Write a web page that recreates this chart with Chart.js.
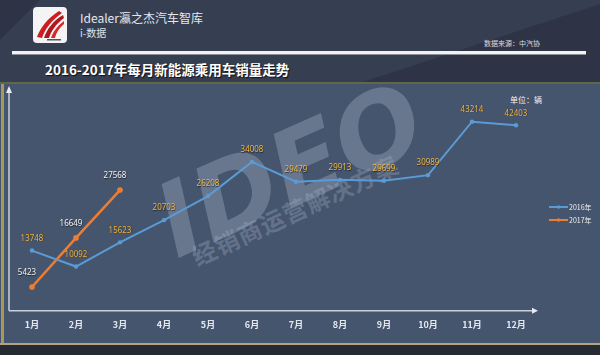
<!DOCTYPE html>
<html><head><meta charset="utf-8">
<script src="https://cdn.jsdelivr.net/npm/chart.js@4"></script>
<style>
html,body{margin:0;padding:0;}
body{width:600px;height:355px;position:relative;overflow:hidden;background:#2e3445;font-family:"Noto Sans CJK SC","Noto Sans",sans-serif;}
.abs{position:absolute;}
#hdrlight{left:0;top:0;width:600px;height:83px;background:#363e52;clip-path:polygon(40px 0,600px 0,600px 4px,360px 83px,0 83px,0 40px);}
#logo{left:33px;top:7px;width:34px;height:36px;background:#f4f4f4;border-radius:4px;overflow:hidden;}
#brand{left:80px;top:11px;color:#e6e8ec;font-size:12px;line-height:14px;white-space:nowrap;}
#sub{left:80px;top:27px;color:#dfe2e8;font-size:10px;line-height:12px;}
#src{left:484px;top:39px;color:#d8dbe2;font-size:7px;line-height:9px;}
#wline{left:12px;top:51px;width:574px;height:3px;background:#f2f2f2;border-bottom:1px solid #8a8f99;}
#title{left:45px;top:61px;color:#ffffff;font-size:13.5px;font-weight:bold;line-height:17px;white-space:nowrap;text-shadow:1px 1px 1px #111;}
#panelTop{left:0;top:82px;width:600px;height:2px;background:#5d6a45;}
#panel{left:0;top:84px;width:600px;height:260px;background:#46556e;}
#lborder{left:1px;top:84px;width:3px;height:261px;background:#a8985c;}
#bline{left:0;top:343px;width:600px;height:2px;background:#b3a486;}
#bottom{left:0;top:345px;width:600px;height:10px;background:#262a33;}
#wm{left:140px;top:100px;width:300px;height:140px;color:rgba(175,188,208,0.33);font-family:"DejaVu Sans";font-weight:bold;font-style:italic;font-size:102px;line-height:140px;text-align:center;transform:rotate(-24deg);white-space:nowrap;}
#wm2{left:170px;top:195px;width:250px;height:30px;color:rgba(175,188,208,0.30);font-weight:bold;font-size:24px;line-height:30px;letter-spacing:1px;text-align:center;transform:rotate(-25deg);white-space:nowrap;}
#unit{left:510px;top:95px;color:#f2f2f2;font-size:8px;line-height:10px;white-space:nowrap;}
#c{position:absolute;left:0;top:0;}
</style></head><body>
<div class="abs" id="hdrlight"></div>
<div class="abs" id="logo"><svg width="34" height="36" viewBox="0 0 34 36">
<path d="M4 30 C8 20 14 12 26 4 L29 6 C18 14 12 22 9 31 Z" fill="#c81e24"/>
<path d="M11 31 C14 22 20 14 30 8 L31 11 C23 17 18 24 16 31 Z" fill="#b0161c"/>
<path d="M18 31 C20 25 24 19 31 14 L31 17 C26 21 23 26 22 31 Z" fill="#d42a2e"/>
<rect x="14" y="32" width="14" height="1.5" fill="#555"/>
</svg></div>
<div class="abs" id="brand">Idealer瀛之杰汽车智库</div>
<div class="abs" id="sub">i-数据</div>
<div class="abs" id="src">数据来源：中汽协</div>
<div class="abs" id="wline"></div>
<div class="abs" id="title">2016-2017年每月新能源乘用车销量走势</div>
<div class="abs" id="panelTop"></div>
<div class="abs" id="panel"></div>
<div class="abs" id="lborder"></div>
<div class="abs" id="bline"></div>
<div class="abs" id="bottom"></div>
<div class="abs" id="wm">IDEO</div>
<div class="abs" id="wm2">经销商运营解决方案</div>
<div class="abs" id="unit">单位：辆</div>
<canvas id="c" width="600" height="355"></canvas>
<script>
const categories = ["1月","2月","3月","4月","5月","6月","7月","8月","9月","10月","11月","12月"];
const sales2016 = [13748,10092,15623,20703,26208,34008,29479,29913,29699,30989,43214,42403];
const sales2017 = [5423,16649,27568];
const seriesNames = ["2016年","2017年"];
const colors = ["#5b9bd5","#ed7d31"];
const labelColors = ["#f2b640","#f2f2f2"];

const axesPlugin = {
  id:'axesArrows',
  beforeDatasetsDraw(chart){
    const {ctx, chartArea:a} = chart;
    ctx.save();
    ctx.strokeStyle = '#c9d0dc'; ctx.fillStyle = '#e8ecf2'; ctx.lineWidth = 1.5;
    ctx.beginPath(); ctx.moveTo(a.left-1, a.bottom); ctx.lineTo(a.left-1, a.top-2); ctx.stroke();
    ctx.beginPath(); ctx.moveTo(a.left-1, a.top-6); ctx.lineTo(a.left-4, a.top+1); ctx.lineTo(a.left+2, a.top+1); ctx.closePath(); ctx.fill();
    ctx.beginPath(); ctx.moveTo(a.left-1, a.bottom); ctx.lineTo(a.right-4, a.bottom); ctx.stroke();
    ctx.beginPath(); ctx.moveTo(a.right, a.bottom); ctx.lineTo(a.right-6, a.bottom-3); ctx.lineTo(a.right-6, a.bottom+3); ctx.closePath(); ctx.fill();
    ctx.restore();
  },
  afterDatasetsDraw(chart){
    const {ctx} = chart;
    ctx.save();
    ctx.font = '8px "Noto Sans", sans-serif';
    ctx.textAlign = 'center'; ctx.textBaseline = 'middle';
    chart.data.datasets.forEach((ds, di) => {
      const meta = chart.getDatasetMeta(di);
      meta.data.forEach((pt, i) => {
        const v = ds.data[i];
        ctx.fillStyle = labelColors[di];
        ctx.shadowColor = 'rgba(0,0,0,0.6)'; ctx.shadowBlur = 1; ctx.shadowOffsetX = 0.5; ctx.shadowOffsetY = 0.5;
        if (di === 0) ctx.fillText(String(v), pt.x, pt.y - 12);
        else ctx.fillText(String(v), pt.x - 5, pt.y - 14);
      });
    });
    // legend
    ctx.shadowColor = 'transparent';
    ctx.textAlign = 'left';
    ctx.font = '7px "Noto Sans CJK SC", sans-serif';
    chart.data.datasets.forEach((ds, di) => {
      const y = 207 + di * 13;
      ctx.strokeStyle = colors[di]; ctx.lineWidth = 2;
      ctx.beginPath(); ctx.moveTo(549, y); ctx.lineTo(568, y); ctx.stroke();
      ctx.fillStyle = colors[di];
      ctx.beginPath(); ctx.arc(558.5, y, 1.8, 0, Math.PI*2); ctx.fill();
      ctx.fillStyle = '#f0f0f0';
      ctx.fillText(ds.label, 569, y);
    });
    ctx.restore();
  }
};

new Chart(document.getElementById('c'), {
  type:'line',
  data:{
    labels: categories,
    datasets:[
      {label:seriesNames[0], data:sales2016, borderColor:colors[0], backgroundColor:colors[0], borderWidth:2, pointRadius:2.2, pointBackgroundColor:colors[0], pointBorderWidth:0, tension:0},
      {label:seriesNames[1], data:sales2017, borderColor:colors[1], backgroundColor:colors[1], borderWidth:2.5, pointRadius:2.8, pointBackgroundColor:colors[1], pointBorderWidth:0, tension:0}
    ]
  },
  options:{
    responsive:false, animation:false, devicePixelRatio:1,
    layout:{padding:{left:10, right:62, top:92, bottom:17.5}},
    plugins:{legend:{display:false}, tooltip:{enabled:false}},
    scales:{
      x:{offset:true, grid:{display:false, drawTicks:false}, border:{display:false},
         ticks:{color:'#e4e8ee', padding:8, font:{size:9, weight:'bold', family:'"Noto Sans CJK SC", sans-serif'}, maxRotation:0, autoSkip:false}},
      y:{display:false, min:0, max:50000}
    }
  },
  plugins:[axesPlugin]
});
</script>
</body></html>
